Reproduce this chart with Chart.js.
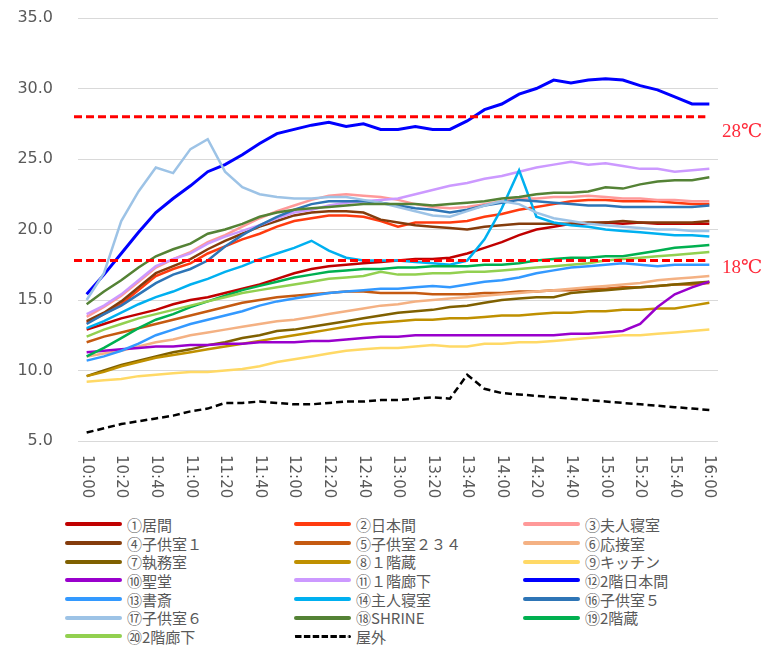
<!DOCTYPE html>
<html>
<head>
<meta charset="utf-8">
<script src="https://cdn.jsdelivr.net/npm/chart.js@4.4.0/dist/chart.umd.min.js"></script>
<style>
  body { margin: 0; background: #fff; }
  #wrap { position: absolute; left: 0; top: 0; width: 770px; height: 508px; }
  #legend {
    position: absolute; left: 65px; top: 515px;
    display: grid; grid-template-columns: 229px 229px 229px;
    font: 15px "Noto Sans CJK JP", sans-serif; color: #595959;
  }
  .item { height: 18.7px; display: flex; align-items: center; white-space: nowrap; }
  .swatch { width: 57px; height: 0; border-top: 4px solid; border-radius: 2px; margin-right: 5px; }
  .swatch.dash { border-top: 3px dashed #000; }
</style>
</head>
<body>
<div id="wrap"><canvas id="chart" width="770" height="508"></canvas></div>
<div id="legend"></div>
<script>
const times = ['10:00','10:10','10:20','10:30','10:40','10:50','11:00','11:10','11:20','11:30','11:40','11:50',
  '12:00','12:10','12:20','12:30','12:40','12:50','13:00','13:10','13:20','13:30','13:40','13:50',
  '14:00','14:10','14:20','14:30','14:40','14:50','15:00','15:10','15:20','15:30','15:40','15:50','16:00'];

const rooms = ['①居間','②日本間','③夫人寝室','④子供室１','⑤子供室２３４','⑥応接室','⑦執務室','⑧１階蔵',
  '⑨キッチン','⑩聖堂','⑪１階廊下','⑫2階日本間','⑬書斎','⑭主人寝室','⑯子供室５','⑰子供室６',
  '⑱SHRINE','⑲2階蔵','⑳2階廊下','屋外'];

const colors = ['#C00000','#FF3B0F','#FF9999','#843C0C','#C55A11','#F4B183','#7F6000','#BF9000',
  '#FFD966','#9900CC','#CC99FF','#0000FF','#3399FF','#00B0F0','#2E75B6','#9DC3E6',
  '#548235','#00B050','#92D050','#000000'];

const s01 = [12.9,13.3,13.7,14.0,14.3,14.7,15.0,15.2,15.5,15.8,16.1,16.5,16.9,17.2,17.4,17.5,17.6,17.7,17.8,17.9,17.9,18.0,18.3,18.7,19.1,19.6,20.0,20.2,20.4,20.4,20.5,20.4,20.5,20.4,20.4,20.4,20.4];
const s02 = [13.4,14.0,14.7,15.7,16.7,17.2,17.6,18.3,18.8,19.3,19.7,20.2,20.6,20.8,21.0,21.0,20.9,20.6,20.2,20.5,20.5,20.5,20.6,20.9,21.1,21.4,21.6,21.8,22.0,22.1,22.1,22.0,22.0,22.0,21.9,21.8,21.8];
const s03 = [13.8,14.5,15.3,16.3,17.3,17.9,18.4,19.1,19.6,20.2,20.8,21.3,21.7,22.1,22.4,22.5,22.4,22.3,22.1,21.8,21.6,21.5,21.6,21.8,22.0,22.2,22.2,22.3,22.3,22.4,22.3,22.2,22.2,22.1,22.1,22.0,22.0];
const s04 = [13.5,14.1,14.9,15.9,16.9,17.4,17.9,18.6,19.2,19.7,20.2,20.6,21.0,21.2,21.3,21.3,21.2,20.7,20.5,20.3,20.2,20.1,20.0,20.2,20.3,20.4,20.4,20.4,20.4,20.5,20.5,20.6,20.5,20.5,20.5,20.5,20.6];
const s05 = [12.0,12.4,12.7,13.0,13.3,13.6,13.9,14.2,14.5,14.8,15.0,15.2,15.3,15.4,15.5,15.6,15.6,15.5,15.5,15.5,15.4,15.4,15.4,15.5,15.5,15.6,15.6,15.7,15.7,15.8,15.8,15.9,15.9,16.0,16.1,16.1,16.2];
const s06 = [11.0,11.2,11.4,11.7,12.0,12.2,12.5,12.7,12.9,13.1,13.3,13.5,13.6,13.8,14.0,14.2,14.4,14.6,14.7,14.9,15.0,15.1,15.2,15.3,15.4,15.5,15.6,15.7,15.8,15.9,16.0,16.1,16.2,16.4,16.5,16.6,16.7];
const s07 = [9.6,10.0,10.4,10.7,11.0,11.3,11.5,11.8,12.0,12.3,12.5,12.8,12.9,13.1,13.3,13.5,13.7,13.9,14.1,14.2,14.3,14.5,14.6,14.8,15.0,15.1,15.2,15.2,15.5,15.6,15.7,15.8,15.9,16.0,16.1,16.2,16.3];
const s08 = [9.6,9.9,10.3,10.6,10.9,11.1,11.3,11.5,11.7,11.9,12.1,12.3,12.5,12.7,12.9,13.1,13.3,13.4,13.5,13.6,13.6,13.7,13.7,13.8,13.9,13.9,14.0,14.1,14.1,14.2,14.2,14.3,14.3,14.4,14.4,14.6,14.8];
const s09 = [9.2,9.3,9.4,9.6,9.7,9.8,9.9,9.9,10.0,10.1,10.3,10.6,10.8,11.0,11.2,11.4,11.5,11.6,11.6,11.7,11.8,11.7,11.7,11.9,11.9,12.0,12.0,12.1,12.2,12.3,12.4,12.5,12.5,12.6,12.7,12.8,12.9];
const s10 = [11.3,11.4,11.5,11.6,11.7,11.7,11.8,11.8,11.9,11.9,12.0,12.0,12.0,12.1,12.1,12.2,12.3,12.4,12.4,12.5,12.5,12.5,12.5,12.5,12.5,12.5,12.5,12.5,12.6,12.6,12.7,12.8,13.3,14.5,15.4,15.9,16.3];
const s11 = [14.0,14.6,15.4,16.4,17.4,17.9,18.3,19.0,19.5,19.9,20.3,20.8,21.2,21.4,21.7,21.9,22.0,22.1,22.2,22.5,22.8,23.1,23.3,23.6,23.8,24.1,24.4,24.6,24.8,24.6,24.7,24.5,24.3,24.3,24.1,24.2,24.3];
const s12 = [15.4,16.8,18.3,19.8,21.2,22.2,23.1,24.1,24.6,25.3,26.1,26.8,27.1,27.4,27.6,27.3,27.5,27.1,27.1,27.3,27.1,27.1,27.7,28.5,28.9,29.6,30.0,30.6,30.4,30.6,30.7,30.6,30.2,29.9,29.4,28.9,28.9];
const s13 = [10.7,11.0,11.4,11.9,12.5,12.9,13.3,13.6,13.9,14.2,14.6,14.9,15.1,15.3,15.5,15.6,15.7,15.8,15.8,15.9,16.0,15.9,16.1,16.3,16.4,16.6,16.9,17.1,17.3,17.4,17.5,17.6,17.5,17.4,17.5,17.5,17.5];
const s14 = [13.0,13.5,14.1,14.7,15.2,15.6,16.1,16.5,17.0,17.4,17.9,18.3,18.7,19.2,18.5,18.0,17.8,17.8,17.8,17.7,17.6,17.5,17.8,19.3,21.5,24.2,20.9,20.5,20.3,20.2,20.0,19.9,19.8,19.7,19.6,19.6,19.5];
const s16 = [13.3,14.0,14.6,15.4,16.2,16.8,17.2,17.8,18.8,19.6,20.3,20.9,21.4,21.8,22.0,22.0,22.0,21.9,21.7,21.5,21.4,21.2,21.4,21.7,21.9,22.1,22.0,21.9,21.8,21.7,21.7,21.6,21.6,21.6,21.6,21.6,21.7];
const s17 = [15.0,16.9,20.6,22.7,24.4,24.0,25.7,26.4,24.1,23.0,22.5,22.3,22.2,22.2,22.3,22.3,22.1,21.9,21.6,21.3,21.0,20.9,21.3,21.7,22.0,21.8,21.2,20.8,20.6,20.4,20.3,20.2,20.1,20.0,20.0,19.9,19.9];
const s18 = [14.7,15.6,16.4,17.3,18.1,18.6,19.0,19.7,20.0,20.4,20.9,21.2,21.4,21.5,21.6,21.7,21.8,21.8,21.8,21.8,21.7,21.8,21.9,22.0,22.2,22.3,22.5,22.6,22.6,22.7,23.0,22.9,23.2,23.4,23.5,23.5,23.7];
const s19 = [11.0,11.6,12.3,13.0,13.6,14.0,14.5,14.9,15.3,15.7,16.0,16.3,16.6,16.8,17.0,17.1,17.2,17.2,17.3,17.3,17.4,17.4,17.4,17.5,17.5,17.6,17.8,17.9,18.0,18.0,18.1,18.1,18.3,18.5,18.7,18.8,18.9];
const s20 = [12.4,12.9,13.3,13.7,14.0,14.3,14.6,14.9,15.2,15.5,15.7,15.9,16.1,16.3,16.5,16.6,16.7,17.0,16.8,16.8,16.9,16.9,17.0,17.0,17.1,17.2,17.3,17.4,17.5,17.6,17.8,17.9,18.0,18.1,18.2,18.3,18.4];
const outdoor = [5.6,5.9,6.2,6.4,6.6,6.8,7.1,7.3,7.7,7.7,7.8,7.7,7.6,7.6,7.7,7.8,7.8,7.9,7.9,8.0,8.1,8.0,9.7,8.7,8.4,8.3,8.2,8.1,8.0,7.9,7.8,7.7,7.6,7.5,7.4,7.3,7.2];

const series = [s01,s02,s03,s04,s05,s06,s07,s08,s09,s10,s11,s12,s13,s14,s16,s17,s18,s19,s20,outdoor];

// target lines
const refValues = [28, 17.8];
const refLabels = ['28℃', '18℃'];

const datasets = series.map((data, i) => {
  const isOut = i === series.length - 1;
  return {
    label: rooms[i],
    data: data,
    borderColor: colors[i],
    backgroundColor: colors[i],
    borderWidth: i === 11 ? 3 : 2.5,
    borderDash: isOut ? [7, 4] : [],
    pointRadius: 0,
    tension: 0,
    fill: false,
    order: series.length - i
  };
});

const refLinePlugin = {
  id: 'refLines',
  afterDatasetsDraw(chart) {
    const { ctx, chartArea, scales: { x, y } } = chart;
    const offsets = [15, 7.5];
    ctx.save();
    refValues.forEach((v, k) => {
      const py = y.getPixelForValue(v);
      ctx.strokeStyle = '#FF0000';
      ctx.lineWidth = 3;
      ctx.setLineDash([8, 4]);
      ctx.beginPath();
      ctx.moveTo(chartArea.left - 4, py);
      ctx.lineTo(x.getPixelForValue(times.length - 1) - 4, py);
      ctx.stroke();
      ctx.setLineDash([]);
      ctx.fillStyle = '#FF2A3A';
      ctx.font = '19px "Liberation Serif", "DejaVu Serif", serif';
      ctx.textBaseline = 'middle';
      ctx.textAlign = 'left';
      ctx.fillText(refLabels[k], chartArea.right + 4, py + offsets[k]);
    });
    ctx.restore();
  }
};

// x labels read top-to-bottom, so draw them turned clockwise
const timeLabelPlugin = {
  id: 'timeLabels',
  afterDraw(chart) {
    const { ctx, chartArea, scales: { x } } = chart;
    ctx.save();
    ctx.font = '15px "DejaVu Sans", sans-serif';
    ctx.fillStyle = '#595959';
    ctx.textBaseline = 'middle';
    ctx.textAlign = 'left';
    times.forEach((t, i) => {
      if (i % 2) return;
      ctx.save();
      ctx.translate(x.getPixelForValue(i), chartArea.bottom + 14);
      ctx.rotate(Math.PI / 2);
      ctx.fillText(t, 0, 0);
      ctx.restore();
    });
    ctx.restore();
  }
};

const chart = new Chart(document.getElementById('chart').getContext('2d'), {
  type: 'line',
  data: { labels: times, datasets: datasets },
  options: {
    responsive: false,
    animation: false,
    devicePixelRatio: 1,
    layout: { padding: { left: 17, right: 52, top: 18, bottom: 67 } },
    plugins: { legend: { display: false }, tooltip: { enabled: false } },
    scales: {
      x: {
        offset: true,
        grid: { display: false },
        border: { display: false },
        ticks: { display: false },
        afterFit: s => { s.height = 0; }
      },
      y: {
        min: 5,
        max: 35,
        ticks: {
          stepSize: 5,
          padding: 25,
          color: '#595959',
          font: { family: 'DejaVu Sans', size: 16 },
          callback: v => v.toFixed(1)
        },
        grid: { color: '#D9D9D9', lineWidth: 1, drawTicks: false },
        border: { display: false },
        afterFit: s => { s.width = 61; s.paddingTop = 0; s.paddingBottom = 0; }
      }
    }
  },
  plugins: [refLinePlugin, timeLabelPlugin]
});

const legendEl = document.getElementById('legend');
datasets.forEach((ds, i) => {
  const item = document.createElement('div');
  item.className = 'item';
  const sw = document.createElement('span');
  sw.className = i === datasets.length - 1 ? 'swatch dash' : 'swatch';
  if (i !== datasets.length - 1) sw.style.borderTopColor = ds.borderColor;
  item.appendChild(sw);
  item.appendChild(document.createTextNode(ds.label));
  legendEl.appendChild(item);
});
</script>
</body>
</html>
